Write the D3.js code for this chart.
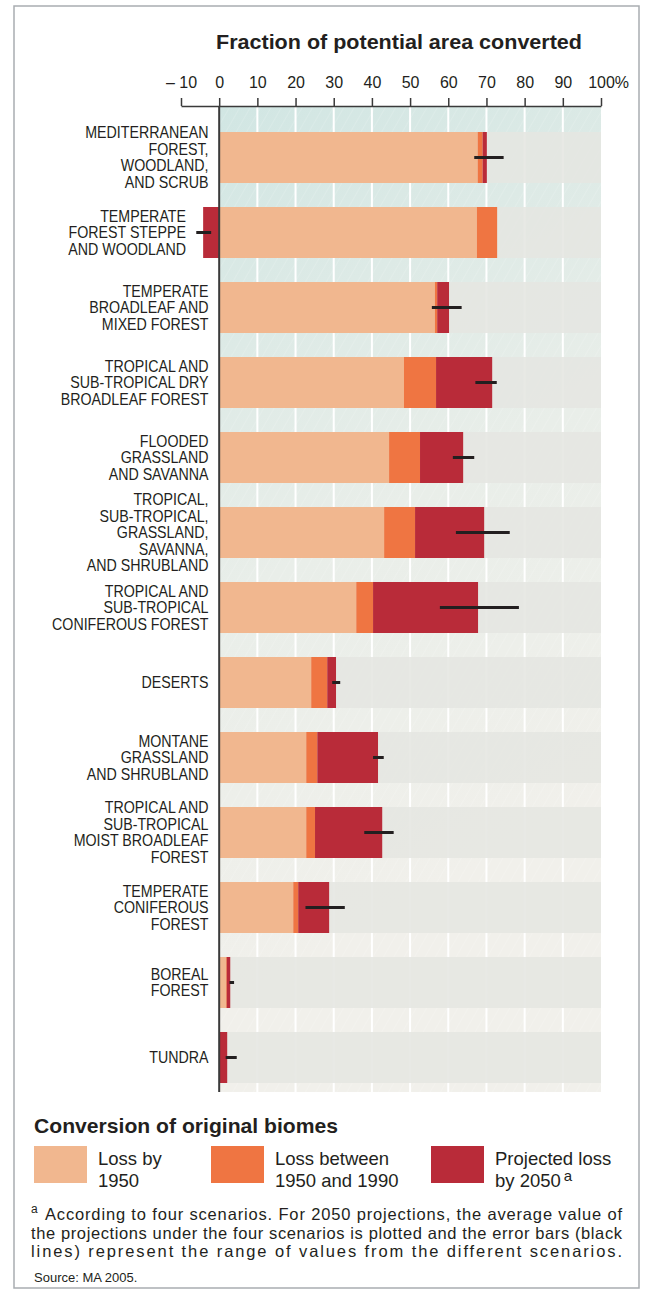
<!DOCTYPE html>
<html>
<head>
<meta charset="utf-8">
<script src="https://cdn.jsdelivr.net/npm/d3@7"></script>
<style>
  html, body { margin: 0; padding: 0; background: #fff; }
  svg { display: block; }
  text { font-family: "Liberation Sans", Arial, Helvetica, sans-serif; fill: #231f20; }
</style>
</head>
<body>
<svg id="chart" width="646" height="1290"></svg>
<script>
// ---------- DATA ----------
const categories = [
  "MEDITERRANEAN|FOREST,|WOODLAND,|AND SCRUB",
  "TEMPERATE|FOREST STEPPE|AND WOODLAND",
  "TEMPERATE|BROADLEAF AND|MIXED FOREST",
  "TROPICAL AND|SUB-TROPICAL DRY|BROADLEAF FOREST",
  "FLOODED|GRASSLAND|AND SAVANNA",
  "TROPICAL,|SUB-TROPICAL,|GRASSLAND,|SAVANNA,|AND SHRUBLAND",
  "TROPICAL AND|SUB-TROPICAL|CONIFEROUS FOREST",
  "DESERTS",
  "MONTANE|GRASSLAND|AND SHRUBLAND",
  "TROPICAL AND|SUB-TROPICAL|MOIST BROADLEAF|FOREST",
  "TEMPERATE|CONIFEROUS|FOREST",
  "BOREAL|FOREST",
  "TUNDRA"
];
// percentage points of potential area
const lossBy1950      = [67.7, 67.5, 56.5, 48.4, 44.5, 43.2, 35.9, 24.1, 22.8, 22.8, 19.4, 1.8, 0.0];
const loss1950to1990  = [ 1.3,  5.3,  0.6,  8.4,  8.1,  8.1,  4.4,  4.2,  2.9,  2.3,  1.3, 0.2, 0.0];
const projected2050   = [ 1.1, -4.2,  3.1, 14.7, 11.3, 18.1, 27.5,  2.3, 15.9, 17.6,  8.1, 0.9, 2.1];
const scenarioLow     = [66.8, -6.0, 55.7, 67.1, 61.2, 62.0, 57.8, 29.6, 40.3, 38.0, 22.6, 2.7, 1.7];
const scenarioHigh    = [74.5, -2.1, 63.5, 72.7, 66.8, 76.1, 78.5, 31.7, 43.1, 45.7, 32.9, 3.9, 4.6];
const tickValues      = [-10, 0, 10, 20, 30, 40, 50, 60, 70, 80, 90, 100];
const seriesNames     = ["Loss by|1950", "Loss between|1950 and 1990", "Projected loss|by 2050"];
const seriesColors    = ["#f1b78f", "#ef7542", "#b92b39"];

// ---------- LAYOUT ----------
const svg = d3.select("#chart");
const x = d3.scaleLinear().domain([-10, 100]).range([181, 601]);
const y = d3.scaleBand().domain(categories).range([120, 1095]).paddingInner(0.32).paddingOuter(0.16);
const plotTop = 107, plotBottom = 1092;

// frame
svg.append("rect").attr("x", 14).attr("y", 6).attr("width", 625).attr("height", 1282)
  .attr("fill", "none").attr("stroke", "#a9adb1").attr("stroke-width", 1.5);

const defs = svg.append("defs");
const grad = defs.append("linearGradient").attr("id", "bg").attr("gradientUnits", "userSpaceOnUse")
  .attr("x1", x(0)).attr("y1", plotTop).attr("x2", x(100)).attr("y2", 800);
grad.append("stop").attr("offset", 0).attr("stop-color", "#d1e6e3");
grad.append("stop").attr("offset", 0.55).attr("stop-color", "#e9eee9");
grad.append("stop").attr("offset", 1).attr("stop-color", "#f1f0eb");
const pat = defs.append("pattern").attr("id", "hatch").attr("patternUnits", "userSpaceOnUse")
  .attr("width", 9).attr("height", 9).attr("patternTransform", "rotate(30)");
pat.append("line").attr("x1", 0).attr("y1", 0).attr("x2", 0).attr("y2", 9)
  .attr("stroke", "#ffffff").attr("stroke-width", 0.8).attr("stroke-opacity", 0.35);

// background
svg.append("rect").attr("x", x(0)).attr("y", plotTop).attr("width", x(100) - x(0))
  .attr("height", plotBottom - plotTop).attr("fill", "url(#bg)");
svg.append("rect").attr("x", x(0)).attr("y", plotTop).attr("width", x(100) - x(0))
  .attr("height", plotBottom - plotTop).attr("fill", "url(#hatch)");

// gridlines
svg.append("g").selectAll("line").data(tickValues.filter(d => d > 0 && d < 100)).join("line")
  .attr("x1", d => x(d)).attr("x2", d => x(d)).attr("y1", plotTop).attr("y2", plotBottom)
  .attr("stroke", "#ffffff").attr("stroke-width", 2);

// grey row bands
svg.append("g").selectAll("rect").data(categories).join("rect")
  .attr("x", x(0)).attr("width", x(100) - x(0))
  .attr("y", d => y(d)).attr("height", y.bandwidth())
  .attr("fill", "#e5e6e1").attr("fill-opacity", 0.88);

// bars
const bars = svg.append("g");
categories.forEach((c, i) => {
  const a = lossBy1950[i], b = a + loss1950to1990[i], p = projected2050[i];
  const segs = [[0, a, 0], [a, b, 1]];
  if (p >= 0) segs.push([b, b + p, 2]); else segs.push([p, 0, 2]);
  segs.filter(s => s[1] - s[0] > 0).forEach(s => {
    bars.append("rect").attr("x", x(s[0])).attr("width", x(s[1]) - x(s[0]))
      .attr("y", y(c)).attr("height", y.bandwidth()).attr("fill", seriesColors[s[2]]);
  });
});

// error bars
svg.append("g").selectAll("line").data(categories).join("line")
  .attr("x1", (d, i) => x(scenarioLow[i])).attr("x2", (d, i) => x(scenarioHigh[i]))
  .attr("y1", d => y(d) + y.bandwidth() / 2).attr("y2", d => y(d) + y.bandwidth() / 2)
  .attr("stroke", "#231f20").attr("stroke-width", 3);

// vertical zero axis
svg.append("line").attr("x1", x(0)).attr("x2", x(0)).attr("y1", 106).attr("y2", plotBottom)
  .attr("stroke", "#3a3a3a").attr("stroke-width", 2);

// top axis
const axis = svg.append("g").attr("transform", "translate(0,106)")
  .call(d3.axisTop(x).tickValues(tickValues).tickSize(8).tickSizeOuter(0)
    .tickFormat(d => d < 0 ? "\u2013 " + Math.abs(d) : String(d)));
axis.select(".domain").attr("stroke", "#3a3a3a").attr("stroke-width", 1.5);
axis.selectAll(".tick line").attr("stroke", "#3a3a3a").attr("stroke-width", 1.5);
axis.selectAll(".tick text").attr("y", -18).attr("dy", 0)
  .style("font-size", "16px").style("fill", "#231f20")
  .style("font-family", "'Liberation Sans', Arial, sans-serif");
const t100 = axis.selectAll(".tick").filter(d => d === 100).select("text");
const w100 = t100.node().getComputedTextLength();
axis.append("text").attr("x", x(100) + w100 / 2 + 0.5).attr("y", -18).attr("text-anchor", "start")
  .text("%").style("font-size", "16px").style("font-family", "'Liberation Sans', Arial, sans-serif");

// title
svg.append("text").attr("x", 216).attr("y", 48.5).text("Fraction of potential area converted")
  .attr("textLength", 366).attr("lengthAdjust", "spacingAndGlyphs")
  .style("font-size", "21px").style("font-weight", "bold");

// category labels
const lh = 16.5;
categories.forEach((c, i) => {
  const lines = c.split("|");
  const cy = y(c) + y.bandwidth() / 2;
  const right = projected2050[i] < 0 ? 186 : 208.5;
  const g = svg.append("g").attr("transform", `translate(${right},0) scale(0.89,1)`);
  const t = g.append("text").attr("text-anchor", "end").style("font-size", "16px");
  lines.forEach((l, k) => {
    t.append("tspan").attr("x", 0)
      .attr("y", cy + (k - (lines.length - 1) / 2) * lh + 5.7).text(l);
  });
});

// legend
svg.append("text").attr("x", 34).attr("y", 1133).text("Conversion of original biomes")
  .attr("textLength", 304).attr("lengthAdjust", "spacingAndGlyphs")
  .style("font-size", "21px").style("font-weight", "bold");
const legX = [34, 211, 431];
seriesNames.forEach((n, i) => {
  svg.append("rect").attr("x", legX[i]).attr("y", 1146).attr("width", 53).attr("height", 37)
    .attr("fill", seriesColors[i]);
  const t = svg.append("text").style("font-size", "18.5px");
  const parts = n.split("|");
  parts.forEach((l, k) => {
    t.append("tspan").attr("x", legX[i] + 64).attr("y", 1165 + k * 21.5).text(l);
  });
  if (i === 2) {
    t.append("tspan").attr("dx", 3).attr("dy", -6).style("font-size", "15px").text("a");
  }
});

// footnote
const noteLines = [
  "According to four scenarios. For 2050 projections, the average value of",
  "the projections under the four scenarios is plotted and the error bars (black",
  "lines) represent the range of values from the different scenarios."
];
svg.append("text").attr("x", 31).attr("y", 1213).text("a").style("font-size", "12px");
noteLines.forEach((l, k) => {
  const x0 = k === 0 ? 45 : 31;
  svg.append("text").attr("x", x0).attr("y", 1220 + k * 18.7)
    .attr("textLength", 622 - x0).attr("lengthAdjust", "spacing")
    .style("font-size", "16.5px").text(l);
});
svg.append("text").attr("x", 34).attr("y", 1282).text("Source: MA 2005.").style("font-size", "13px");
</script>
</body>
</html>
